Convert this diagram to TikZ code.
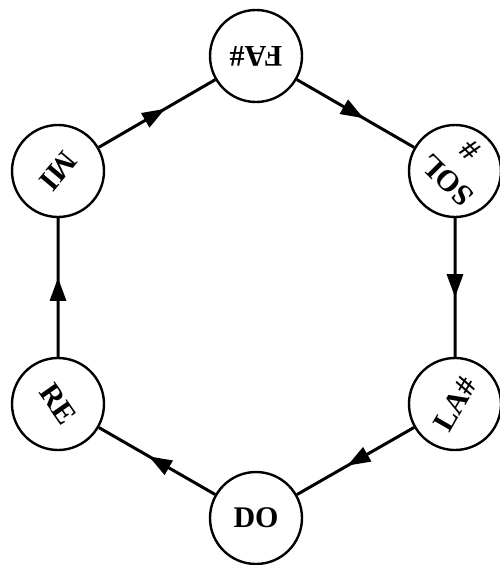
\documentclass[tikz,border=0pt]{standalone}
\usepackage{fontspec}
\setmainfont{Liberation Serif}
\usetikzlibrary{arrows.meta,decorations.markings}
\begin{document}
\begin{tikzpicture}[x=1pt,y=-1pt,
  st/.style={circle,draw,line width=2.4pt,minimum size=92pt,inner sep=0pt,font=\bfseries\fontsize{30}{32}\selectfont},
  lbl/.style={font=\bfseries\fontsize{30}{32}\selectfont,inner sep=0pt},
  flow/.style={line width=3pt,postaction={decorate},
    decoration={markings,mark=at position 0.57 with {\arrow{Triangle[length=23pt,width=16pt]}}}}]
\useasboundingbox (0,0) rectangle (500,565);
\node[st,rotate=180] (fa) at (256,56) {FA\#};
\node[st] (sol) at (455,171) {};
\node[lbl,rotate=135] (soltext) at (447,180) {SOL};
\node[lbl,rotate=135] (solsharp) at (470,150) {\#};
\node[st,rotate=60] (la) at (455,404) {LA\#};
\node[st] (do) at (256,518) {DO};
\node[st,rotate=-55] (re) at (58,404) {RE};
\node[st,rotate=230] (mi) at (58,171) {MI};
\draw[flow] (fa) -- (sol);
\draw[flow] (sol) -- (la);
\draw[flow] (la) -- (do);
\draw[flow] (do) -- (re);
\draw[flow] (re) -- (mi);
\draw[flow] (mi) -- (fa);
\end{tikzpicture}
\end{document}
